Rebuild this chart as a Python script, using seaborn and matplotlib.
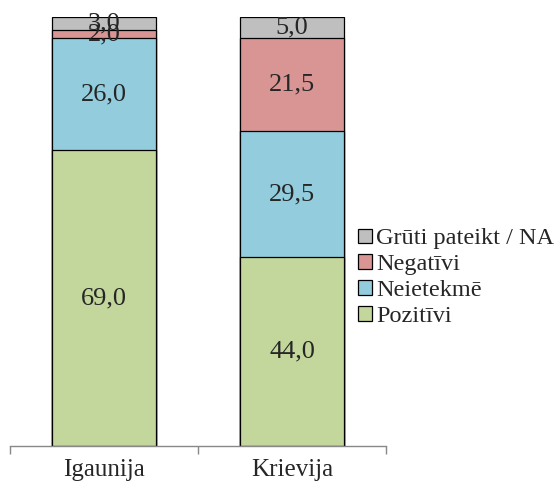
import matplotlib
matplotlib.use('Agg')
import matplotlib.pyplot as plt
from matplotlib.patches import Patch
import seaborn as sns
import numpy as np

countries = ['Igaunija', 'Krievija']
series = ['Pozitīvi', 'Neietekmē', 'Negatīvi', 'Grūti pateikt / NA']
pozitivi = [69.0, 44.0]
neietekme = [26.0, 29.5]
negativi = [2.0, 21.5]
gruti = [3.0, 5.0]
colors = ['#C3D69B', '#93CDDD', '#D99594', '#BFBFBF']

sns.set_style('white')
plt.rcParams['font.family'] = ['Liberation Serif', 'DejaVu Serif']

values = np.array([pozitivi, neietekme, negativi, gruti])
cum = values.cumsum(axis=0)

fig = plt.figure(figsize=(5.58, 4.96), dpi=100)
ax = fig.add_axes([10/558, 50/496, 376/558, 429/496])

# layered bars: draw the tallest cumulative first, then the lower ones over it
for i in range(len(series) - 1, -1, -1):
    sns.barplot(x=countries, y=cum[i], color=colors[i], width=0.55,
                edgecolor='black', linewidth=0.9, saturation=1, ax=ax)

for j in range(len(countries)):
    for i in range(len(series)):
        bottom = cum[i][j] - values[i][j]
        ax.text(j, bottom + values[i][j] / 2, f'{values[i][j]:.1f}'.replace('.', ','),
                ha='center', va='center', fontsize=19)

ax.set_xlim(-0.5, 1.5)
ax.set_ylim(0, 100)
ax.set_yticks([])
ax.set_ylabel('')
for s in ['left', 'right', 'top']:
    ax.spines[s].set_visible(False)
ax.spines['bottom'].set_color('#888888')
ax.spines['bottom'].set_linewidth(1)
ax.set_xticks([-0.5, 0.5, 1.5], minor=True)
ax.tick_params(axis='x', which='minor', bottom=True, length=6, color='#888888', width=1)
ax.tick_params(axis='x', which='major', bottom=False, pad=6, labelsize=18)

handles = [Patch(facecolor=colors[i], edgecolor='black', linewidth=0.9, label=series[i])
           for i in range(len(series) - 1, -1, -1)]
fig.legend(handles=handles, loc='center left', bbox_to_anchor=(346/558, 0.44),
           frameon=False, fontsize=17.5, handlelength=0.55, handleheight=0.55,
           handletextpad=0.2, labelspacing=0.2, borderpad=0)

fig.savefig('out.png', dpi=100)
